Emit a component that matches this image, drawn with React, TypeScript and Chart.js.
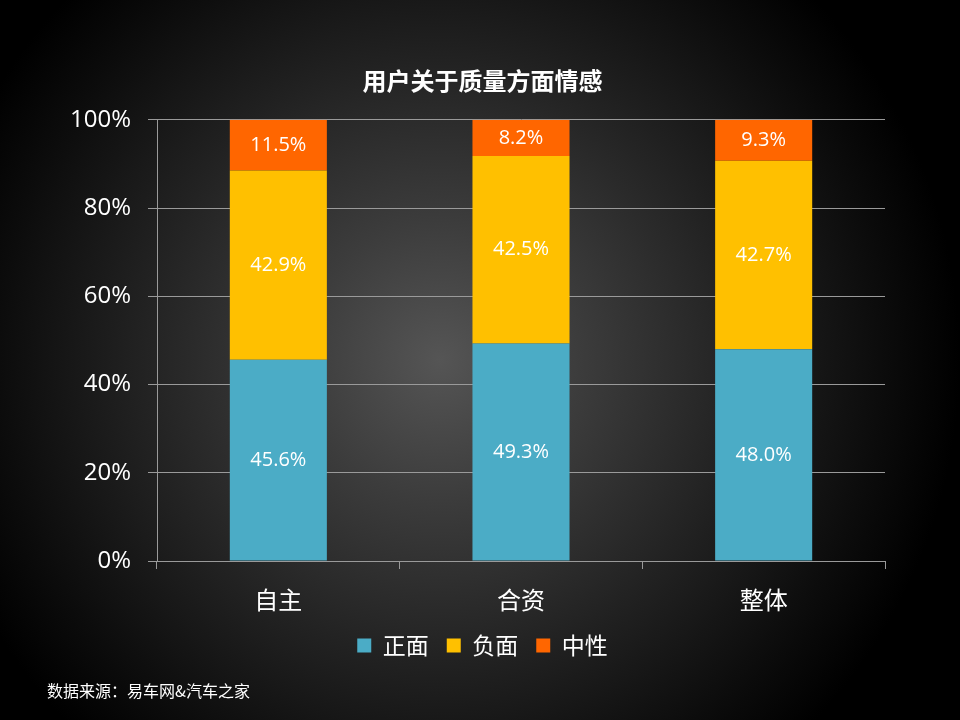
import React, { useEffect, useRef } from "react";
import { Chart, registerables } from "chart.js";

Chart.register(...registerables);

const categories = ["自主", "合资", "整体"];
const positive = [45.6, 49.3, 48.0];
const negative = [42.9, 42.5, 42.7];
const neutral = [11.5, 8.2, 9.3];
const seriesNames = ["正面", "负面", "中性"];
const yTicks = [0, 20, 40, 60, 80, 100];
const titleText = "用户关于质量方面情感";
const sourceText = "数据来源：易车网&汽车之家";

const FONT = "'Open Sans', 'Noto Sans CJK SC', sans-serif";
const CJK = "'Noto Sans CJK SC', 'Open Sans', sans-serif";

const labelPlugin = {
  id: "segLabels",
  afterDatasetsDraw(chart: any) {
    const ctx = chart.ctx;
    ctx.save();
    ctx.font = `20px ${FONT}`;
    ctx.fillStyle = "#ffffff";
    ctx.textAlign = "center";
    ctx.textBaseline = "middle";
    chart.data.datasets.forEach((ds: any, di: number) => {
      const meta = chart.getDatasetMeta(di);
      meta.data.forEach((bar: any, i: number) => {
        const v = ds.data[i];
        const y = (bar.y + bar.base) / 2;
        ctx.fillText(v.toFixed(1) + "%", bar.x, y);
      });
    });
    ctx.restore();
  },
};

export default function App() {
  const ref = useRef<HTMLCanvasElement>(null);
  useEffect(() => {
    document.body.style.margin = "0";
    const chart = new Chart(ref.current!, {
      type: "bar",
      data: {
        labels: categories,
        datasets: [
          { label: seriesNames[0], data: positive, backgroundColor: "#4BACC6" },
          { label: seriesNames[1], data: negative, backgroundColor: "#FFC000" },
          { label: seriesNames[2], data: neutral, backgroundColor: "#FF6600" },
        ],
      },
      options: {
        animation: false,
        responsive: false,
        devicePixelRatio: 1,
        layout: { padding: { left: 5, right: 0, top: 0, bottom: 53 } },
        datasets: { bar: { categoryPercentage: 1, barPercentage: 0.4 } },
        scales: {
          x: {
            stacked: true,
            grid: {
              offset: true,
              drawOnChartArea: false,
              drawTicks: true,
              tickLength: 8,
              color: "#9a9a9a",
            },
            border: { color: "#9a9a9a" },
            ticks: { color: "#ffffff", font: { size: 24, family: CJK }, padding: 16 },
            afterFit: (s: any) => {
              s.height = 55;
            },
          },
          y: {
            stacked: true,
            min: 0,
            max: 100,
            afterBuildTicks: (s: any) => {
              s.ticks = yTicks.map((v) => ({ value: v }));
            },
            grid: { color: "#9a9a9a", tickLength: 9 },
            border: { color: "#9a9a9a" },
            ticks: {
              color: "#ffffff",
              font: { size: 24, family: FONT },
              padding: 17,
              callback: (v: any) => v + "%",
            },
            afterFit: (s: any) => {
              s.width = 152;
            },
          },
          yRight: {
            position: "right",
            display: true,
            grid: { drawOnChartArea: false, drawTicks: false },
            border: { display: false },
            ticks: { display: false },
            afterFit: (s: any) => {
              s.width = 75;
            },
          },
        },
        plugins: {
          title: {
            display: true,
            text: titleText,
            color: "#ffffff",
            font: { size: 24, weight: "bold", family: CJK },
            padding: { top: 66, bottom: 25 },
          },
          legend: {
            position: "bottom",
            labels: {
              color: "#ffffff",
              font: { size: 23, family: CJK },
              boxWidth: 14,
              boxHeight: 14,
              padding: 18,
            },
          },
          tooltip: { enabled: false },
        },
      },
      plugins: [labelPlugin],
    } as any);
    return () => chart.destroy();
  }, []);

  return (
    <div
      style={{
        position: "fixed",
        left: 0,
        top: 0,
        width: 960,
        height: 720,
        background:
          "radial-gradient(circle at 440px 360px, #555555 0px, #3c3c3c 140px, #222222 300px, #0c0c0c 440px, #000000 520px)",
      }}
    >
      <canvas ref={ref} width={960} height={720} style={{ display: "block" }} />
      <div
        style={{
          position: "absolute",
          left: 47,
          top: 679,
          color: "#ffffff",
          fontFamily: CJK,
          fontSize: 16,
          lineHeight: "22px",
          whiteSpace: "nowrap",
        }}
      >
        {sourceText}
      </div>
    </div>
  );
}
